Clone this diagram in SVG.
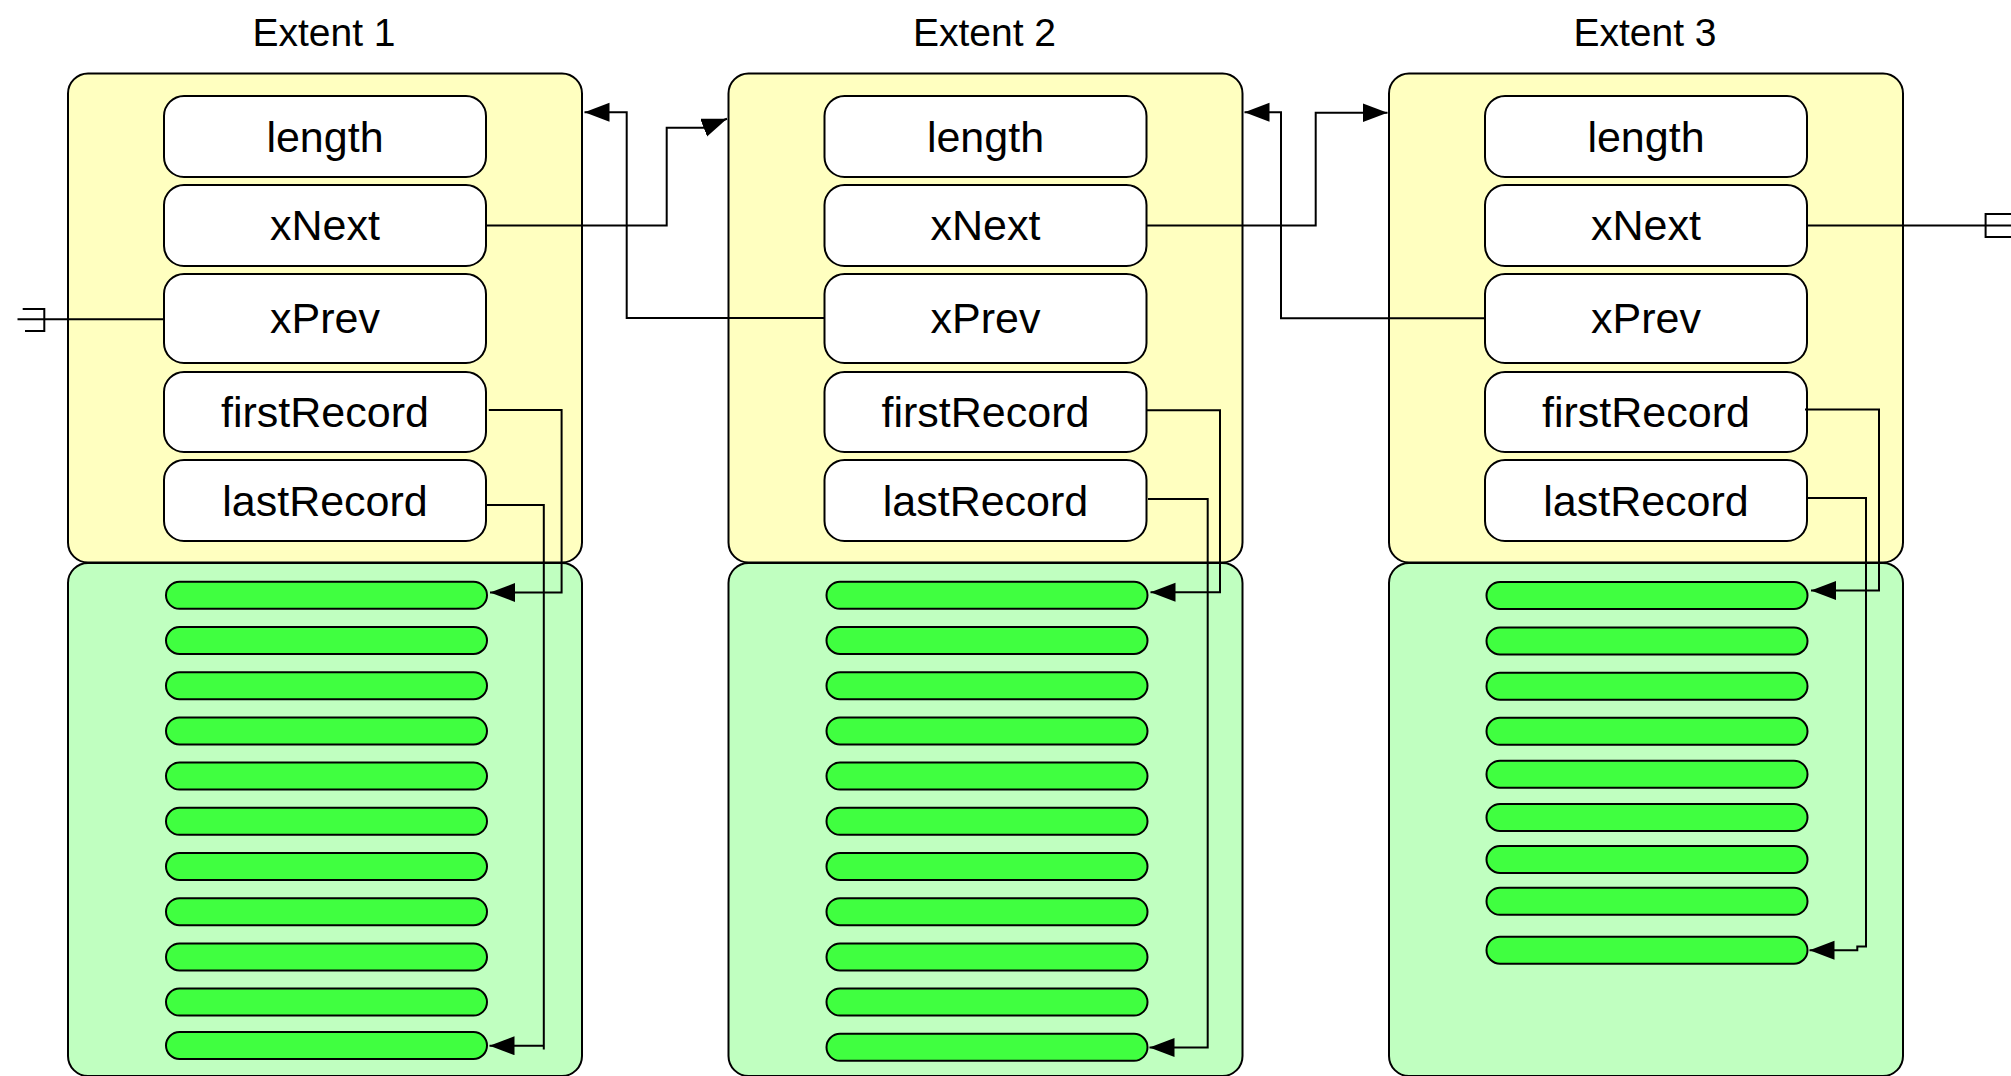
<svg xmlns="http://www.w3.org/2000/svg" width="2011" height="1076" viewBox="0 0 2011 1076">
<defs>
<style>
.hdr{fill:#FFFFC0;stroke:#000;stroke-width:2}
.blk{fill:#C0FFC0;stroke:#000;stroke-width:2}
.fld{fill:#FFFFFF;stroke:#000;stroke-width:2}
.rec{fill:#40FF40;stroke:#000;stroke-width:2}
.lbl{font-family:"Liberation Sans",Arial,Helvetica,sans-serif;font-size:43px;text-anchor:middle;fill:#000}
.ttl{font-family:"Liberation Sans",Arial,Helvetica,sans-serif;font-size:39px;text-anchor:middle;fill:#000}
.con{fill:none;stroke:#000;stroke-width:2}
.arr{marker-end:url(#ah)}
</style>
<marker id="ah" markerUnits="userSpaceOnUse" markerWidth="26" markerHeight="20" refX="25" refY="9.5" orient="auto" viewBox="0 0 26 20">
<path d="M0,0 L25,9.5 L0,19 Z" fill="#000"/>
</marker>
</defs>
<rect width="2011" height="1076" fill="#FFFFFF"/>

<g id="extent1">
<text class="ttl" x="324" y="46">Extent 1</text>
<rect class="hdr" x="68" y="73.5" width="514" height="489" rx="20"/>
<rect class="blk" x="68" y="563" width="514" height="513" rx="20"/>
<g id="e1-length"><rect class="fld" x="164" y="96" width="322" height="81" rx="20"/><text class="lbl" x="325" y="152">length</text></g>
<g id="e1-xNext"><rect class="fld" x="164" y="185" width="322" height="81" rx="20"/><text class="lbl" x="325" y="240">xNext</text></g>
<g id="e1-xPrev"><rect class="fld" x="164" y="274" width="322" height="89" rx="20"/><text class="lbl" x="325" y="333">xPrev</text></g>
<g id="e1-firstRecord"><rect class="fld" x="164" y="372" width="322" height="80" rx="20"/><text class="lbl" x="325" y="427">firstRecord</text></g>
<g id="e1-lastRecord"><rect class="fld" x="164" y="460" width="322" height="81" rx="20"/><text class="lbl" x="325" y="516">lastRecord</text></g>
<g id="e1-records">
<rect class="rec" x="166" y="581.8" width="321" height="27" rx="13.5"/>
<rect class="rec" x="166" y="627" width="321" height="27" rx="13.5"/>
<rect class="rec" x="166" y="672.2" width="321" height="27" rx="13.5"/>
<rect class="rec" x="166" y="717.4" width="321" height="27" rx="13.5"/>
<rect class="rec" x="166" y="762.6" width="321" height="27" rx="13.5"/>
<rect class="rec" x="166" y="807.8" width="321" height="27" rx="13.5"/>
<rect class="rec" x="166" y="853" width="321" height="27" rx="13.5"/>
<rect class="rec" x="166" y="898.2" width="321" height="27" rx="13.5"/>
<rect class="rec" x="166" y="943.4" width="321" height="27" rx="13.5"/>
<rect class="rec" x="166" y="988.6" width="321" height="27" rx="13.5"/>
<rect class="rec" x="166" y="1032" width="321" height="27" rx="13.5"/>
</g>
</g>

<g id="extent2">
<text class="ttl" x="984.5" y="46">Extent 2</text>
<rect class="hdr" x="728.5" y="73.5" width="514" height="489" rx="20"/>
<rect class="blk" x="728.5" y="563" width="514" height="513" rx="20"/>
<g id="e2-length"><rect class="fld" x="824.5" y="96" width="322" height="81" rx="20"/><text class="lbl" x="985.5" y="152">length</text></g>
<g id="e2-xNext"><rect class="fld" x="824.5" y="185" width="322" height="81" rx="20"/><text class="lbl" x="985.5" y="240">xNext</text></g>
<g id="e2-xPrev"><rect class="fld" x="824.5" y="274" width="322" height="89" rx="20"/><text class="lbl" x="985.5" y="333">xPrev</text></g>
<g id="e2-firstRecord"><rect class="fld" x="824.5" y="372" width="322" height="80" rx="20"/><text class="lbl" x="985.5" y="427">firstRecord</text></g>
<g id="e2-lastRecord"><rect class="fld" x="824.5" y="460" width="322" height="81" rx="20"/><text class="lbl" x="985.5" y="516">lastRecord</text></g>
<g id="e2-records">
<rect class="rec" x="826.5" y="581.8" width="321" height="27" rx="13.5"/>
<rect class="rec" x="826.5" y="627" width="321" height="27" rx="13.5"/>
<rect class="rec" x="826.5" y="672.2" width="321" height="27" rx="13.5"/>
<rect class="rec" x="826.5" y="717.4" width="321" height="27" rx="13.5"/>
<rect class="rec" x="826.5" y="762.6" width="321" height="27" rx="13.5"/>
<rect class="rec" x="826.5" y="807.8" width="321" height="27" rx="13.5"/>
<rect class="rec" x="826.5" y="853" width="321" height="27" rx="13.5"/>
<rect class="rec" x="826.5" y="898.2" width="321" height="27" rx="13.5"/>
<rect class="rec" x="826.5" y="943.4" width="321" height="27" rx="13.5"/>
<rect class="rec" x="826.5" y="988.6" width="321" height="27" rx="13.5"/>
<rect class="rec" x="826.5" y="1033.8" width="321" height="27" rx="13.5"/>
</g>
</g>

<g id="extent3">
<text class="ttl" x="1645" y="46">Extent 3</text>
<rect class="hdr" x="1389" y="73.5" width="514" height="489" rx="20"/>
<rect class="blk" x="1389" y="563" width="514" height="513" rx="20"/>
<g id="e3-length"><rect class="fld" x="1485" y="96" width="322" height="81" rx="20"/><text class="lbl" x="1646" y="152">length</text></g>
<g id="e3-xNext"><rect class="fld" x="1485" y="185" width="322" height="81" rx="20"/><text class="lbl" x="1646" y="240">xNext</text></g>
<g id="e3-xPrev"><rect class="fld" x="1485" y="274" width="322" height="89" rx="20"/><text class="lbl" x="1646" y="333">xPrev</text></g>
<g id="e3-firstRecord"><rect class="fld" x="1485" y="372" width="322" height="80" rx="20"/><text class="lbl" x="1646" y="427">firstRecord</text></g>
<g id="e3-lastRecord"><rect class="fld" x="1485" y="460" width="322" height="81" rx="20"/><text class="lbl" x="1646" y="516">lastRecord</text></g>
<g id="e3-records">
<rect class="rec" x="1486.5" y="582" width="321" height="27" rx="13.5"/>
<rect class="rec" x="1486.5" y="627.5" width="321" height="27" rx="13.5"/>
<rect class="rec" x="1486.5" y="672.7" width="321" height="27" rx="13.5"/>
<rect class="rec" x="1486.5" y="717.8" width="321" height="27" rx="13.5"/>
<rect class="rec" x="1486.5" y="760.7" width="321" height="27" rx="13.5"/>
<rect class="rec" x="1486.5" y="803.9" width="321" height="27" rx="13.5"/>
<rect class="rec" x="1486.5" y="846" width="321" height="27" rx="13.5"/>
<rect class="rec" x="1486.5" y="887.8" width="321" height="27" rx="13.5"/>
<rect class="rec" x="1486.5" y="936.7" width="321" height="27" rx="13.5"/>
</g>
</g>

<g id="connectors">
<path class="con" d="M164,319.3 H17.5"/>
<path class="con" d="M22.7,309 H44.3 V331 H25"/>
<path class="con arr" d="M486,225.5 H666.7 V127.7 H703.5 L727,118.7"/>
<path class="con arr" d="M824.5,318 H626.7 V112.3 H584.5"/>
<path class="con arr" d="M1146.5,225.5 H1315.7 V112.7 H1387.5"/>
<path class="con arr" d="M1485,318.3 H1281 V112.3 H1244.5"/>
<path class="con" d="M1807,225.5 H2011"/>
<path class="con" d="M2011,214 H1985.6 V237 H2011"/>
<path class="con arr" d="M488.8,410 H561.6 V592.5 H490"/>
<path class="con arr" d="M486,505 H543.8 V1049.5 M543.8,1045.7 H489.5"/>
<path class="con arr" d="M1146.5,410.2 H1220 V592.2 H1150.5"/>
<path class="con arr" d="M1148,499 H1207.7 V1047.5 H1149.5"/>
<path class="con arr" d="M1805,409.5 H1879 V590.5 H1811"/>
<path class="con arr" d="M1806.7,498 H1866 V946.5 H1857.3 V950.2 H1809.5"/>
</g>
</svg>
